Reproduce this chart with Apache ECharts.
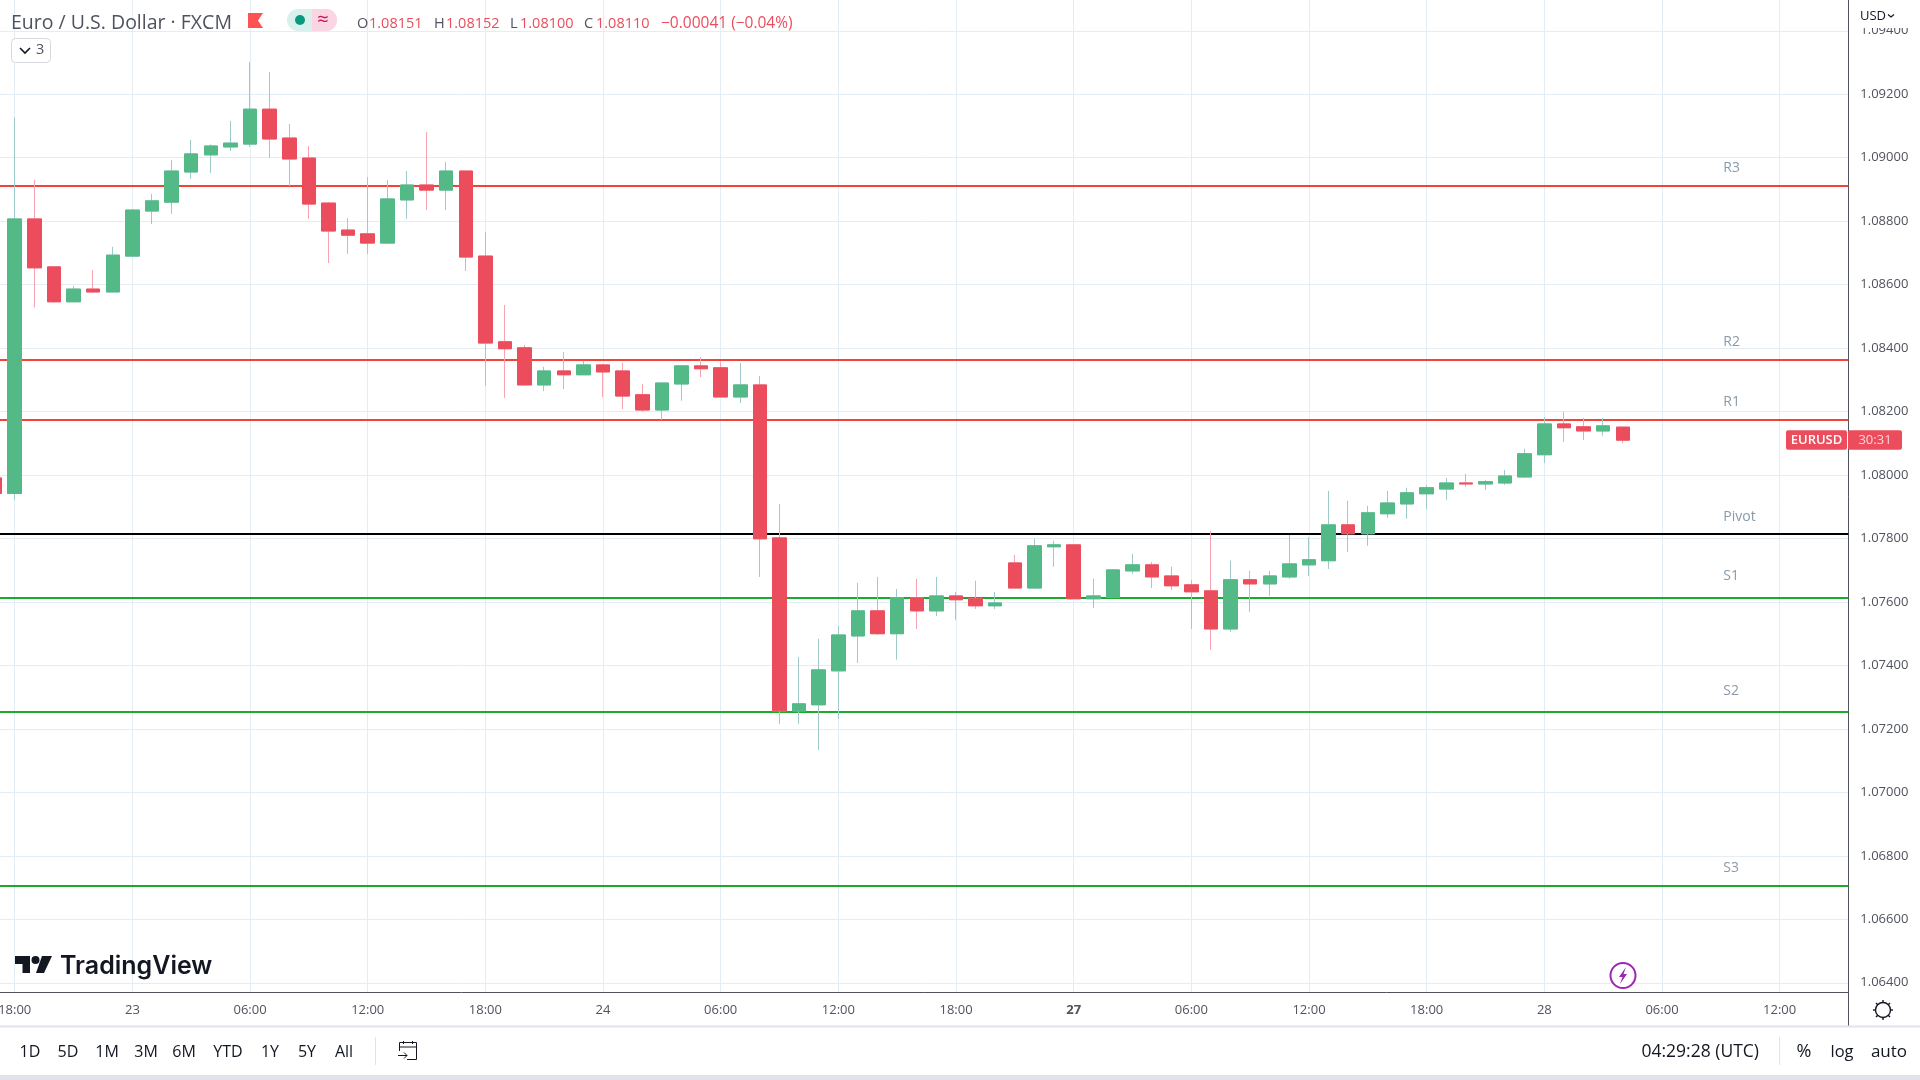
<!DOCTYPE html>
<html>
<head>
<meta charset="utf-8">
<title>EURUSD</title>
<style>
html, body { margin: 0; padding: 0; background: #fff; }
#chart { width: 1920px; height: 1080px; }
</style>
<script src="https://cdn.jsdelivr.net/npm/echarts@6/dist/echarts.min.js"></script>
</head>
<body>
<div id="chart"></div>
<script>
// hourly bars, first one is cut off by the left edge
const opens = [1.07991,1.07942,1.08807,1.08656,1.08546,1.08586,1.08577,1.08690,1.08832,1.08860,1.08955,1.09009,1.09034,1.09043,1.09153,1.09062,1.08999,1.08857,1.08772,1.08760,1.08731,1.08867,1.08914,1.08898,1.08958,1.08690,1.08420,1.08401,1.08284,1.08328,1.08316,1.08347,1.08328,1.08253,1.08205,1.08287,1.08344,1.08338,1.08246,1.08284,1.07802,1.07257,1.07276,1.07383,1.07493,1.07572,1.07500,1.07613,1.07572,1.07619,1.07610,1.07588,1.07723,1.07644,1.07774,1.07780,1.07610,1.07615,1.07698,1.07717,1.07682,1.07654,1.07635,1.07515,1.07670,1.07657,1.07679,1.07717,1.07730,1.07843,1.07815,1.07878,1.07909,1.07941,1.07956,1.07975,1.07972,1.07975,1.07994,1.08064,1.08161,1.08152,1.08139,1.08151];
const closes = [1.07942,1.08807,1.08653,1.08546,1.08586,1.08577,1.08693,1.08835,1.08864,1.08958,1.09012,1.09037,1.09046,1.09153,1.09059,1.08996,1.08854,1.08769,1.08756,1.08731,1.08870,1.08914,1.08898,1.08958,1.08687,1.08416,1.08398,1.08284,1.08328,1.08316,1.08347,1.08325,1.08249,1.08205,1.08290,1.08344,1.08335,1.08246,1.08284,1.07799,1.07257,1.07279,1.07386,1.07496,1.07572,1.07500,1.07613,1.07572,1.07619,1.07607,1.07588,1.07597,1.07644,1.07777,1.07780,1.07610,1.07619,1.07701,1.07717,1.07679,1.07651,1.07632,1.07515,1.07670,1.07657,1.07682,1.07720,1.07733,1.07843,1.07815,1.07881,1.07912,1.07944,1.07960,1.07975,1.07972,1.07979,1.07997,1.08067,1.08161,1.08149,1.08139,1.08155,1.08110];
const lows = [1.07938,1.07922,1.08528,1.08543,1.08546,1.08574,1.08577,1.08690,1.08791,1.08823,1.08933,1.08952,1.09021,1.09034,1.08999,1.08911,1.08807,1.08668,1.08697,1.08697,1.08731,1.08807,1.08835,1.08835,1.08643,1.08281,1.08243,1.08284,1.08265,1.08271,1.08316,1.08246,1.08208,1.08199,1.08174,1.08234,1.08309,1.08246,1.08227,1.07679,1.07216,1.07216,1.07134,1.07232,1.07408,1.07496,1.07418,1.07515,1.07556,1.07544,1.07578,1.07578,1.07644,1.07644,1.07711,1.07610,1.07581,1.07615,1.07689,1.07644,1.07638,1.07515,1.07449,1.07506,1.07569,1.07619,1.07673,1.07682,1.07704,1.07758,1.07777,1.07865,1.07862,1.07893,1.07922,1.07963,1.07953,1.07969,1.07991,1.08038,1.08105,1.08111,1.08124,1.08100];
const highs = [1.07995,1.09126,1.08930,1.08656,1.08596,1.08646,1.08719,1.08838,1.08886,1.08993,1.09056,1.09042,1.09116,1.09302,1.09270,1.09106,1.09037,1.08860,1.08810,1.08939,1.08930,1.08958,1.09081,1.08986,1.08958,1.08766,1.08536,1.08410,1.08341,1.08388,1.08360,1.08350,1.08353,1.08287,1.08290,1.08347,1.08372,1.08357,1.08353,1.08312,1.07909,1.07427,1.07484,1.07525,1.07660,1.07679,1.07641,1.07673,1.07679,1.07632,1.07667,1.07632,1.07748,1.07799,1.07793,1.07780,1.07673,1.07704,1.07752,1.07726,1.07711,1.07670,1.07824,1.07730,1.07698,1.07698,1.07811,1.07805,1.07950,1.07919,1.07903,1.07950,1.07960,1.07969,1.07991,1.08004,1.07985,1.08016,1.08083,1.08182,1.08199,1.08180,1.08180,1.08152];

const timeTicks = ['18:00','23','06:00','12:00','18:00','24','06:00','12:00','18:00','27','06:00','12:00','18:00','28','06:00','12:00'];
const priceTicks = [1.064,1.066,1.068,1.07,1.072,1.074,1.076,1.078,1.08,1.082,1.084,1.086,1.088,1.09,1.092,1.094];

const levelNames = ['R3','R2','R1','Pivot','S1','S2','S3'];
const levelValues = [1.08912,1.08363,1.08174,1.07814,1.07613,1.07253,1.06705];

const lastClose = closes[closes.length - 1];

const BAR_SLOTS = 95;
const TICK_EVERY = 6;
const isTick = (i) => (i - 1) % TICK_EVERY === 0;
const categories = Array.from({ length: BAR_SLOTS }, (_, i) => (isTick(i) ? timeTicks[(i - 1) / TICK_EVERY] : ''));

const GREEN = '#53b987', RED = '#eb4d5c';
const GRID_LINE = '#e3edf3', AXIS_LINE = '#50535e', SEP = '#e0e3eb';
const FONT = '"Open Sans", "Noto Sans", sans-serif';

function levelColor(name) {
    if (name === 'Pivot') return '#000000';
    return name[0] === 'R' ? '#f44336' : '#1aab2a';
}

// S1 and S2 sit a little higher over their lines than the others
function levelLabelLift(name) {
    return name === 'S1' || name === 'S2' ? -21.5 : -17.5;
}

function label(text, x, y, opts) {
    return {
        type: 'text', z: 100, x: x, y: y, silent: true,
        style: Object.assign({
            text: text, font: '14.5px ' + FONT, fill: '#131722',
            align: 'left', verticalAlign: 'middle'
        }, opts || {})
    };
}

function hline(x1, y1, x2, y2, color, width) {
    return {
        type: 'line', z: 100, silent: true,
        shape: { x1: x1, y1: y1, x2: x2, y2: y2 },
        style: { stroke: color, lineWidth: width || 1, fill: null }
    };
}

function rect(x, y, w, h, fill, r, stroke) {
    return {
        type: 'rect', z: 99, silent: true,
        shape: { x: x, y: y, width: w, height: h, r: r || 0 },
        style: { fill: fill, stroke: stroke || null }
    };
}

function poly(points, fill) {
    return { type: 'polygon', z: 100, silent: true, shape: { points: points }, style: { fill: fill } };
}

function polyline(points, color, width) {
    return {
        type: 'polyline', z: 100, silent: true, shape: { points: points },
        style: { stroke: color, lineWidth: width, fill: null }
    };
}

const chrome = [];

// legend row
chrome.push(label('Euro / U.S. Dollar \u00b7 FXCM', 11, 23, { font: '19.5px ' + FONT, fill: '#50535e' }));
chrome.push(poly([[248, 13], [263, 13], [258, 20.5], [263, 28], [248, 28]], '#ff5252'));
chrome.push({ type: 'rect', z: 99, silent: true, shape: { x: 287, y: 9, width: 50, height: 22, r: 11 }, style: { fill: '#d8f1ec' } });
chrome.push({ type: 'rect', z: 99, silent: true, shape: { x: 312, y: 9, width: 25, height: 22, r: [0, 11, 11, 0] }, style: { fill: '#fcd5e2' } });
chrome.push({ type: 'circle', z: 100, silent: true, shape: { cx: 300, cy: 20, r: 5 }, style: { fill: '#089981' } });
chrome.push(label('\u2248', 323, 20, { font: '20px ' + FONT, fill: '#c2185b', align: 'center' }));

const ohlc = [['O', 357, '1.08151', 369], ['H', 434, '1.08152', 446], ['L', 510, '1.08100', 520], ['C', 584, '1.08110', 596]];
ohlc.forEach((row) => {
    chrome.push(label(row[0], row[1], 23.5, { fill: '#50535e' }));
    chrome.push(label(row[2], row[3], 23.5, { fill: RED }));
});
chrome.push(label('\u22120.00041 (\u22120.04%)', 661, 23.5, { fill: RED, font: '15.5px ' + FONT }));

// collapsed indicators button
chrome.push(rect(11.5, 38.5, 39, 24, '#ffffff', 4, '#d6d8e0'));
chrome.push(polyline([[20, 48], [25, 53], [30, 48]], '#131722', 1.6));
chrome.push(label('3', 36, 50, { fill: '#50535e' }));

// logo
chrome.push(poly([[15, 956], [30, 956], [30, 973], [22.5, 973], [22.5, 964], [15, 964]], '#131722'));
chrome.push({ type: 'circle', z: 100, silent: true, shape: { cx: 35.5, cy: 960, r: 4 }, style: { fill: '#131722' } });
chrome.push(poly([[42, 956], [52, 956], [44, 973], [36, 973]], '#131722'));
chrome.push(label('TradingView', 60, 966, { font: '600 25px Inter, ' + FONT }));

// lightning marker
chrome.push({ type: 'circle', z: 100, silent: true, shape: { cx: 1623, cy: 975.5, r: 12.5 }, style: { fill: '#ffffff', stroke: '#9c27b0', lineWidth: 2 } });
chrome.push(poly([[1626, 967], [1619, 977], [1622.5, 977], [1620, 984], [1627, 974], [1623.5, 974]], '#9c27b0'));

// right side panel bits
chrome.push(rect(1849, 0, 71, 28, '#ffffff'));
chrome.push(label('USD', 1860, 16, { font: '13px ' + FONT }));
chrome.push(polyline([[1888, 14.5], [1891, 17], [1894, 14.5]], '#131722', 1.2));
chrome.push(hline(1848.5, 992, 1848.5, 1026, AXIS_LINE));

// gear
chrome.push({ type: 'circle', z: 100, silent: true, shape: { cx: 1883, cy: 1010, r: 7.5 }, style: { fill: '#ffffff', stroke: '#131722', lineWidth: 1.4 } });
[[0, -1], [0, 1], [-1, 0], [1, 0], [0.7, 0.7], [-0.7, 0.7], [0.7, -0.7], [-0.7, -0.7]].forEach((d) => {
    chrome.push(hline(1883 + d[0] * 7.5, 1010 + d[1] * 7.5, 1883 + d[0] * 10, 1010 + d[1] * 10, '#131722', 1.4));
});

// bottom toolbar
chrome.push(hline(0, 1026.5, 1920, 1026.5, SEP, 2));
chrome.push(rect(0, 1075, 1920, 5, SEP));
[['1D', 30], ['5D', 68], ['1M', 107], ['3M', 146], ['6M', 184], ['YTD', 228], ['1Y', 270], ['5Y', 307], ['All', 344]].forEach((b) => {
    chrome.push(label(b[0], b[1], 1052, { font: '16px ' + FONT, align: 'center' }));
});
chrome.push(hline(375.5, 1037, 375.5, 1065, SEP));
chrome.push(rect(399.5, 1042.5, 17, 17, null, 0, '#131722'));
chrome.push(hline(399, 1047, 417, 1047, '#131722'));
chrome.push(hline(403.5, 1041, 403.5, 1044, '#131722'));
chrome.push(hline(412.5, 1041, 412.5, 1044, '#131722'));
chrome.push(rect(398, 1051, 9, 10, '#ffffff'));
chrome.push(polyline([[398, 1055.5], [407, 1055.5], [404, 1052.5]], '#131722', 1));
chrome.push(polyline([[407, 1055.5], [404, 1058.5]], '#131722', 1));

chrome.push(label('04:29:28 (UTC)', 1759, 1052, { font: '17.5px ' + FONT, align: 'right' }));
chrome.push(hline(1779.5, 1037, 1779.5, 1065, SEP));
chrome.push(label('%', 1804, 1052, { font: '18px ' + FONT, align: 'center' }));
chrome.push(label('log', 1842, 1052, { font: '16.5px ' + FONT, align: 'center' }));
chrome.push(label('auto', 1889, 1052, { font: '17px ' + FONT, align: 'center' }));

const option = {
    animation: false,
    backgroundColor: '#ffffff',
    textStyle: { fontFamily: FONT },
    grid: { left: -14.7, top: 0, width: 1863, height: 992.3, containLabel: false, outerBoundsMode: 'none' },
    xAxis: {
        type: 'category',
        data: categories,
        boundaryGap: true,
        axisLine: { lineStyle: { color: AXIS_LINE, width: 1 } },
        axisTick: { show: false, interval: (i) => isTick(i), alignWithLabel: true },
        axisLabel: {
            interval: (i) => isTick(i),
            color: '#50535e', fontSize: 13, margin: 11, fontFamily: FONT,
            formatter: (v) => (v === '27' ? '{b|27}' : v),
            rich: { b: { fontWeight: 'bold', fontSize: 13, color: '#50535e', fontFamily: FONT } }
        },
        splitLine: { show: true, interval: (i) => isTick(i), alignWithLabel: true, lineStyle: { color: GRID_LINE, width: 1 } }
    },
    yAxis: {
        type: 'value',
        position: 'right',
        min: 1.0637,
        max: 1.09497,
        scale: true,
        axisLine: { show: true, lineStyle: { color: AXIS_LINE, width: 1 } },
        axisTick: { show: false, customValues: priceTicks },
        axisLabel: {
            customValues: priceTicks,
            color: '#50535e', fontSize: 13, margin: 12, fontFamily: FONT,
            formatter: (v) => v.toFixed(5)
        },
        splitLine: { show: true, lineStyle: { color: GRID_LINE, width: 1 } }
    },
    series: [
        {
            name: 'Levels',
            type: 'scatter',
            z: 1,
            symbolSize: 1,
            itemStyle: { color: 'transparent' },
            data: levelNames.map((n, i) => ({
                name: n,
                value: [88, levelValues[i]],
                label: { offset: [0, levelLabelLift(n)] }
            })),
            label: {
                show: true, position: 'right', distance: 2,
                formatter: '{b}', color: '#6b7f94', fontSize: 14, fontFamily: FONT
            },
            markLine: {
                silent: true, symbol: 'none', z: 1, animation: false, precision: 5,
                label: { show: false },
                data: levelNames.map((n, i) => ({ yAxis: levelValues[i], lineStyle: { color: levelColor(n), width: 2, type: 'solid' } }))
            }
        },
        {
            name: 'Wicks',
            type: 'candlestick',
            z: 2,
            barWidth: 14,
            itemStyle: { color: '#a0c9cb', color0: '#f7a3b0', borderColor: '#a0c9cb', borderColor0: '#f7a3b0', borderWidth: 1 },
            data: opens.map((o, i) => [o, closes[i], lows[i], highs[i]])
        },
        {
            name: 'EURUSD',
            type: 'candlestick',
            z: 3,
            barWidth: 14,
            itemStyle: { color: GREEN, color0: RED, borderColor: GREEN, borderColor0: RED, borderWidth: 1 },
            data: opens.map((o, i) => [o, closes[i], Math.min(o, closes[i]), Math.max(o, closes[i])])
        }
    ],
    graphic: chrome
};

const chart = echarts.init(document.getElementById('chart'));
chart.setOption(option);

// price tag follows the last close
const tagY = chart.convertToPixel({ yAxisIndex: 0 }, lastClose);
chart.setOption({
    graphic: chrome.concat([
        rect(1786, tagY - 10, 61, 19.5, RED, 2),
        rect(1848, tagY - 10, 54, 19.5, RED, 2),
        label('EURUSD', 1816.5, tagY, { font: '600 13px ' + FONT, fill: '#ffffff', align: 'center' }),
        label('30:31', 1875, tagY, { font: '13px ' + FONT, fill: '#ffd5da', align: 'center' })
    ])
});
</script>
</body>
</html>
